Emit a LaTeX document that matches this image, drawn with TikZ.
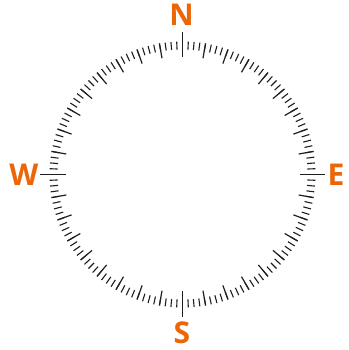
\documentclass[tikz,border=0pt]{standalone}
\usepackage{fontspec}
\setmainfont{Open Sans}
\usepackage{tikz}
\usetikzlibrary{positioning}
\definecolor{CompassOrange}{RGB}{236,102,8}
\definecolor{TickGray}{RGB}{30,30,30}

\begin{document}
\begin{tikzpicture}[x=1pt,y=1pt,
  minortick/.style={draw=TickGray,line width=1.1pt},
  majortick/.style={draw=TickGray,line width=1.2pt},
  cardtick/.style={draw=TickGray,line width=1.4pt},
  dirlabel/.style={font=\bfseries\fontsize{30}{30}\selectfont,
                   text=CompassOrange,inner sep=0pt},
]
\useasboundingbox (0,0) rectangle (348,350);
\coordinate (ctr) at (182.5,175.5);
% minor ticks every 2.5 degrees
\foreach \a in {0,2.5,...,357.5}
  \draw[minortick] ([shift={(\a:125)}]ctr) -- ([shift={(\a:133)}]ctr);
% major ticks every 10 degrees
\foreach \a in {0,10,...,350}
  \draw[majortick] ([shift={(\a:118)}]ctr) -- ([shift={(\a:133)}]ctr);
% cardinal ticks
\foreach \a in {0,90,180,270}
  \draw[cardtick] ([shift={(\a:117)}]ctr) -- ([shift={(\a:142.5)}]ctr);
\node[dirlabel] (north) at (181.5,335) {N};
\node[dirlabel] (south) at (182,17) {S};
\node[dirlabel] (west) at (24,175.5) {W};
\node[dirlabel] (east) at (336,175.5) {E};
\end{tikzpicture}
\end{document}
